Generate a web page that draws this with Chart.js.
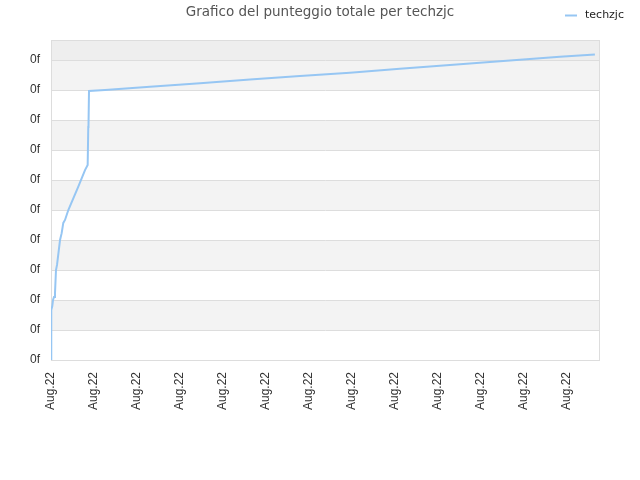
<!DOCTYPE html>
<html>
<head>
<meta charset="utf-8">
<script src="https://cdn.jsdelivr.net/npm/chart.js@4/dist/chart.umd.min.js"></script>
<style>
html,body{margin:0;padding:0;background:#fff;}
#wrap{width:640px;height:480px;}
</style>
</head>
<body>
<div id="wrap"><canvas id="c" width="640" height="480"></canvas></div>
<script>
const chartTitle = "Grafico del punteggio totale per techzjc";
const seriesName = "techzjc";
const xTickLabel = "Aug.22";
const yTickLabel = "0f";
const xValues = [0, 0, 0.007, 0.012, 0.03, 0.047, 0.07, 0.093, 0.116, 0.14, 0.21, 0.248, 0.286, 0.326, 0.403, 0.635, 0.791, 0.853, 0.867, 0.872, 0.884, 1.256, 2.302, 3.465, 4.628, 5.791, 6.953, 8.116, 9.047, 9.744, 10.907, 11.837, 12.651];
const yValues = [0, 0.67, 0.73, 1.67, 1.8, 2.0, 2.1, 2.23, 3.0, 3.17, 4.0, 4.23, 4.57, 4.67, 5.0, 5.78, 6.33, 6.5, 7.77, 7.8, 8.97, 9.0, 9.11, 9.23, 9.35, 9.47, 9.58, 9.71, 9.81, 9.89, 10.01, 10.11, 10.19];
const xMax = 12.77;
const yMax = 10.67;

const points = xValues.map((x, i) => ({x: x, y: yValues[i]}));

const bandsPlugin = {
  id: 'bands',
  beforeDatasetsDraw(chart) {
    const {ctx, chartArea: a, scales: {y}} = chart;
    ctx.save();
    const ticks = y.ticks.map(t => t.value);
    for (let i = 0; i < ticks.length; i++) {
      const v0 = ticks[i];
      const v1 = i + 1 < ticks.length ? ticks[i + 1] : y.max;
      const p0 = y.getPixelForValue(v0), p1 = y.getPixelForValue(v1);
      let col = null;
      if (i === ticks.length - 1) col = '#eeeeee';
      else if (i % 2 === 1) col = '#f3f3f3';
      if (col) { ctx.fillStyle = col; ctx.fillRect(a.left, p1, a.right - a.left, p0 - p1); }
    }
    ctx.strokeStyle = '#dddddd';
    ctx.lineWidth = 1;
    for (let i = 1; i < ticks.length; i++) {
      const p = Math.round(y.getPixelForValue(ticks[i])) + 0.5;
      ctx.beginPath(); ctx.moveTo(a.left, p); ctx.lineTo(a.right, p); ctx.stroke();
    }
    ctx.strokeRect(Math.round(a.left) + 0.5, Math.round(a.top) + 0.5, Math.round(a.right - a.left) - 1, Math.round(a.bottom - a.top));
    ctx.restore();
  },
  afterDraw(chart) {
    const {ctx} = chart;
    const ds = chart.data.datasets[0];
    ctx.save();
    ctx.strokeStyle = ds.borderColor;
    ctx.lineWidth = 2;
    ctx.beginPath(); ctx.moveTo(565, 15.5); ctx.lineTo(577, 15.5); ctx.stroke();
    ctx.fillStyle = '#222';
    ctx.font = '11px "DejaVu Sans"';
    ctx.textBaseline = 'middle';
    ctx.fillText(ds.label, 585, 15);
    ctx.restore();
  }
};

new Chart(document.getElementById('c'), {
  type: 'line',
  data: {
    datasets: [{
      label: seriesName,
      data: points,
      borderColor: 'rgb(150,198,243)',
      borderWidth: 2,
      pointRadius: 0,
      tension: 0,
      fill: false
    }]
  },
  options: {
    responsive: false,
    animation: false,
    devicePixelRatio: 1,
    layout: {padding: 0},
    plugins: {
      legend: {display: false},
      tooltip: {enabled: false},
      title: {
        display: true,
        text: chartTitle,
        color: '#555',
        font: {family: '"DejaVu Sans"', size: 13.5, weight: 'normal', lineHeight: 1.2},
        padding: {top: 3.9, bottom: 19.9}
      }
    },
    scales: {
      x: {
        type: 'linear',
        min: 0,
        max: xMax,
        grid: {display: false, drawTicks: false},
        border: {display: false},
        ticks: {
          stepSize: 1,
          includeBounds: false,
          autoSkip: false,
          maxRotation: 90,
          minRotation: 90,
          padding: 12,
          color: '#333',
          font: {family: '"Liberation Sans"', size: 12},
          callback: () => xTickLabel
        },
        afterFit: s => { s.height = 120; }
      },
      y: {
        type: 'linear',
        min: 0,
        max: yMax,
        grid: {display: false, drawTicks: false},
        border: {display: false},
        ticks: {
          stepSize: 1,
          includeBounds: false,
          padding: 11,
          color: '#333',
          font: {family: '"Liberation Sans"', size: 12},
          callback: () => yTickLabel
        },
        afterFit: s => { s.width = 51; }
      },
      yRight: {
        type: 'linear',
        position: 'right',
        display: true,
        grid: {display: false, drawTicks: false},
        border: {display: false},
        ticks: {display: false},
        afterFit: s => { s.width = 40; }
      }
    }
  },
  plugins: [bandsPlugin]
});
</script>
</body>
</html>
